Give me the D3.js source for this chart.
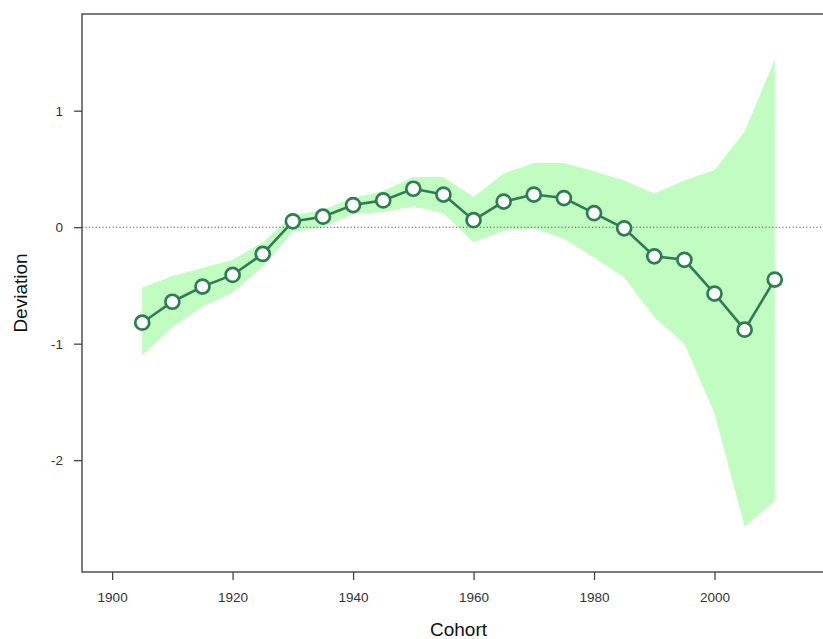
<!DOCTYPE html>
<html>

<head>
    <title>Cohort Deviation</title>
    <script src="https://d3js.org/d3.v7.min.js"></script>
    <style>
        body {
            margin: 0;
            background: #fff;
        }

        svg {
            font-family: "Liberation Sans", Arial, sans-serif;
        }

        .tick-label {
            font-size: 13.5px;
            fill: #333;
        }

        .axis-title {
            font-size: 19px;
            fill: #111;
        }
    </style>
</head>

<body>
    <div id="chart"></div>
    <script>
        // Values
        const cohorts = [1905, 1910, 1915, 1920, 1925, 1930, 1935, 1940, 1945, 1950, 1955,
            1960, 1965, 1970, 1975, 1980, 1985, 1990, 1995, 2000, 2005, 2010];
        const estimates = [-0.82, -0.64, -0.51, -0.41, -0.23, 0.05, 0.09, 0.19, 0.23, 0.33, 0.28,
            0.06, 0.22, 0.28, 0.25, 0.12, -0.01, -0.25, -0.28, -0.57, -0.88, -0.45];
        const upper = [-0.52, -0.42, -0.35, -0.28, -0.13, 0.10, 0.15, 0.25, 0.31, 0.43, 0.43,
            0.26, 0.46, 0.55, 0.55, 0.48, 0.40, 0.29, 0.40, 0.49, 0.82, 1.44];
        const lower = [-1.10, -0.86, -0.68, -0.56, -0.34, -0.04, 0.00, 0.11, 0.13, 0.18, 0.12,
            -0.13, -0.03, -0.01, -0.10, -0.26, -0.43, -0.77, -1.00, -1.60, -2.57, -2.35];
        const xTicks = [1900, 1920, 1940, 1960, 1980, 2000];
        const yTicks = [-2, -1, 0, 1];

        const width = 823, height = 639;
        const plot = { left: 82, top: 14, right: 835, bottom: 572 };

        const x = d3.scaleLinear().domain([1895, 2020]).range([plot.left, plot.right]);
        const y = d3.scaleLinear().domain([-2.96, 1.83]).range([plot.bottom, plot.top]);

        const data = cohorts.map((c, i) => ({ c: c, est: estimates[i], lo: lower[i], hi: upper[i] }));

        const svg = d3.select("#chart").append("svg")
            .attr("width", width)
            .attr("height", height);

        // confidence band
        svg.append("path")
            .datum(data)
            .attr("fill", "#c1fcc1")
            .attr("d", d3.area()
                .x(d => x(d.c))
                .y0(d => y(d.lo))
                .y1(d => y(d.hi)));

        // zero reference line
        svg.append("line")
            .attr("x1", plot.left).attr("x2", plot.right)
            .attr("y1", y(0)).attr("y2", y(0))
            .attr("stroke", "#555")
            .attr("stroke-width", 1.1)
            .attr("stroke-dasharray", "1.2,2.2");

        // estimate line
        svg.append("path")
            .datum(data)
            .attr("fill", "none")
            .attr("stroke", "#2e7d52")
            .attr("stroke-width", 2.6)
            .attr("d", d3.line().x(d => x(d.c)).y(d => y(d.est)));

        svg.selectAll("circle.pt")
            .data(data)
            .enter().append("circle")
            .attr("class", "pt")
            .attr("cx", d => x(d.c))
            .attr("cy", d => y(d.est))
            .attr("r", 7)
            .attr("fill", "#fff")
            .attr("stroke", "#2e7d52")
            .attr("stroke-width", 2.7);

        // frame
        svg.append("rect")
            .attr("x", plot.left).attr("y", plot.top)
            .attr("width", plot.right - plot.left)
            .attr("height", plot.bottom - plot.top)
            .attr("fill", "none")
            .attr("stroke", "#444")
            .attr("stroke-width", 1.4);

        // bottom axis
        const xAxis = svg.append("g")
            .attr("transform", "translate(0," + plot.bottom + ")")
            .call(d3.axisBottom(x).tickValues(xTicks).tickSize(8).tickPadding(12).tickFormat(d3.format("d")));
        xAxis.select(".domain").remove();
        xAxis.selectAll(".tick line").attr("stroke", "#444").attr("stroke-width", 1.3);
        xAxis.selectAll(".tick text").attr("class", "tick-label").attr("font-family", null).attr("font-size", null);

        // left axis
        const yAxis = svg.append("g")
            .attr("transform", "translate(" + plot.left + ",0)")
            .call(d3.axisLeft(y).tickValues(yTicks).tickSize(8).tickPadding(11).tickFormat(d3.format("d")));
        yAxis.select(".domain").remove();
        yAxis.selectAll(".tick line").attr("stroke", "#444").attr("stroke-width", 1.3);
        yAxis.selectAll(".tick text").attr("class", "tick-label").attr("font-family", null).attr("font-size", null)
            .text(d => d < 0 ? "-" + Math.abs(d) : d);

        // axis titles
        svg.append("text")
            .attr("class", "axis-title")
            .attr("x", (plot.left + plot.right) / 2)
            .attr("y", 636)
            .attr("text-anchor", "middle")
            .text("Cohort");

        svg.append("text")
            .attr("class", "axis-title")
            .attr("transform", "translate(27," + 293 + ") rotate(-90)")
            .attr("text-anchor", "middle")
            .text("Deviation");
    </script>
</body>

</html>
